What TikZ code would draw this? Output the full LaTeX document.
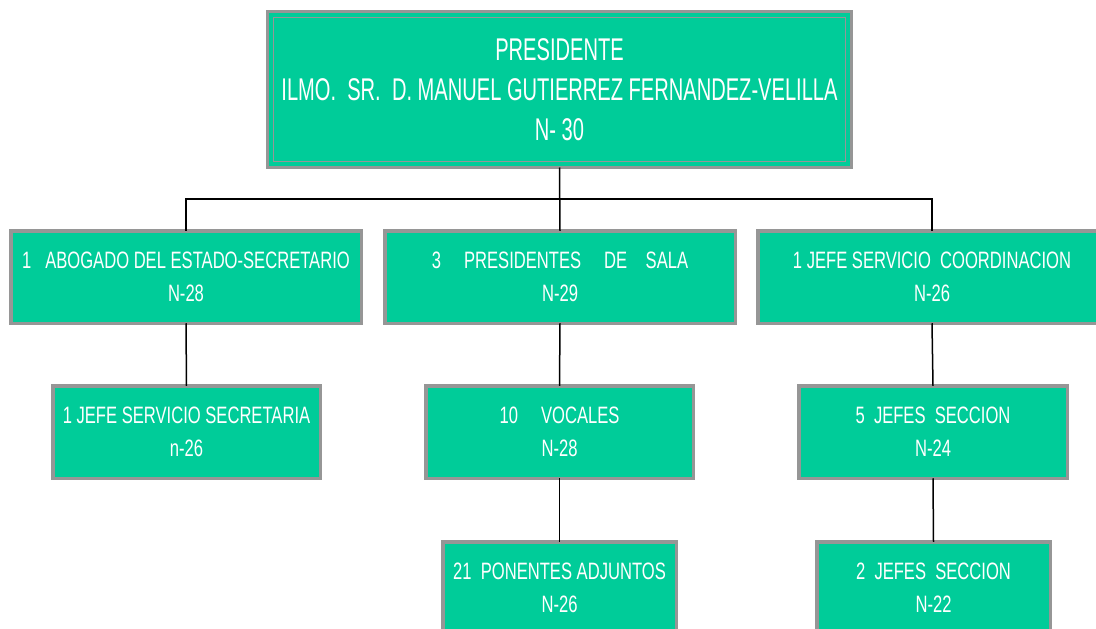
\documentclass[tikz,border=0pt]{standalone}
\usepackage{fontspec}
\setmainfont{Liberation Sans}[FakeStretch=0.64]
\newfontfamily\boxfont{Liberation Sans}[FakeStretch=0.7]
\usepackage{xcolor}
\usepackage{tikz}
\usetikzlibrary{positioning,calc}
\definecolor{boxgreen}{RGB}{0,204,153}
\definecolor{boxgray}{RGB}{150,150,150}

\begin{document}
\begin{tikzpicture}[x=1pt,y=-1pt,
          box/.style={draw=boxgray,fill=boxgreen,line width=3.5pt,
                      inner sep=0pt,outer sep=0pt,
                      minimum height=92.5pt,text=white,align=center,
                      font=\boxfont\fontsize{23.7}{33}\selectfont},
          topbox/.style={box,minimum width=584pt,minimum height=156pt,
                         font=\rmfamily\fontsize{31.4}{40}\selectfont},
          link/.style={draw=black,line width=1.5pt}]
        \useasboundingbox (0,0) rectangle (1096,629);
        \clip (0,0) rectangle (1096,629);
        \node[topbox] (pres) at (559.5,89.5)
          {PRESIDENTE\\ILMO.~~SR.~~D. MANUEL GUTIERREZ FERNANDEZ-VELILLA\\N-~30};
        \draw[boxgray,line width=1.5pt]
          ([shift={(6,6)}]pres.north west) rectangle ([shift={(-6,-6)}]pres.south east);
        \node[box,minimum width=350.5pt] (s1) at (186,277)
          {1~~~ABOGADO DEL ESTADO-SECRETARIO\\N-28};
        \node[box,minimum width=350.5pt] (s2) at (560,277)
          {3~~~~~PRESIDENTES~~~~~DE~~~~SALA\\N-29};
        \node[box,minimum width=348.5pt] (s3) at (932,277)
          {1 JEFE SERVICIO~~COORDINACION\\N-26};
        \node[box,minimum width=267.5pt] (a1) at (186.5,432)
          {1 JEFE SERVICIO SECRETARIA\\n-26};
        \node[box,minimum width=267.5pt] (b1) at (559.5,432)
          {10~~~~~VOCALES\\N-28};
        \node[box,minimum width=268.5pt] (c1) at (933,432)
          {5~~JEFES~~SECCION\\N-24};
        \node[box,minimum width=233.5pt] (b2) at (559.5,588)
          {21~~PONENTES ADJUNTOS\\N-26};
        \node[box,minimum width=233.5pt] (c2) at (933.5,588)
          {2~~JEFES~~SECCION\\N-22};
        \coordinate (bar) at (559.5,199);
        \draw[link] (pres.south) -- (s2.north);
        \draw[link,line width=2.5pt] (s1.north) |- (bar) -| (s3.north);
        \draw[link] (s1.south) -- (a1.north);
        \draw[link] (s2.south) -- (b1.north);
        \draw[link] (b1.south) -- (b2.north);
        \draw[link] (s3.south) -- (c1.north);
        \draw[link] (c1.south) -- (c2.north);
\end{tikzpicture}
\end{document}
